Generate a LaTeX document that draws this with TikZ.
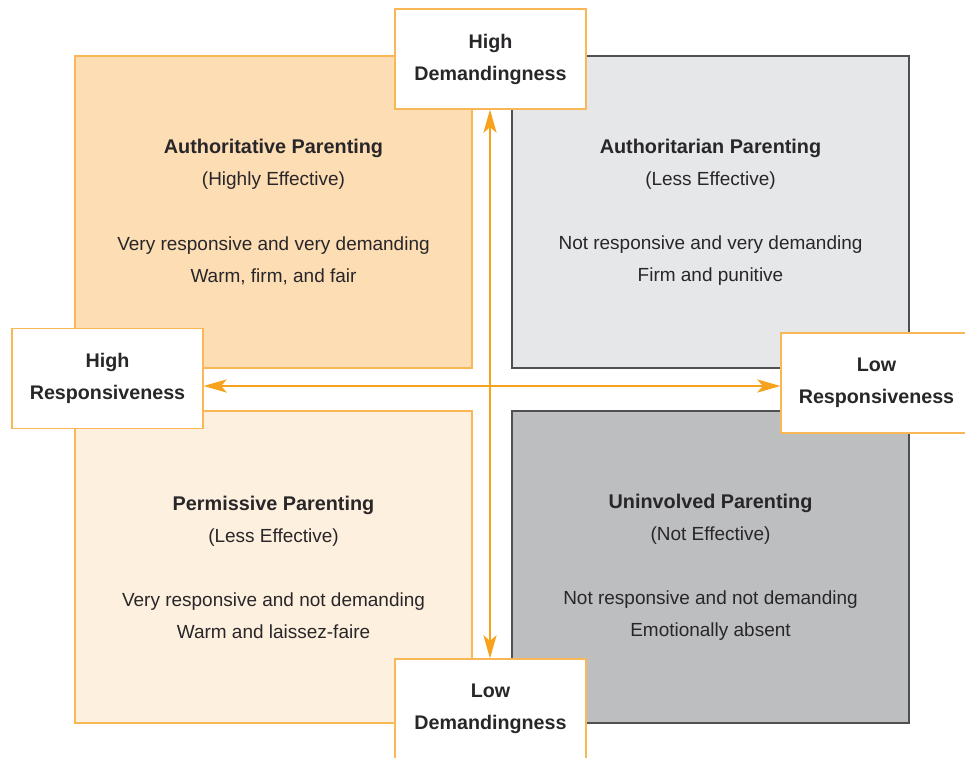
\documentclass[tikz,border=0pt]{standalone}
\usepackage{fontspec}
\setmainfont{Liberation Sans}
\usetikzlibrary{arrows.meta}
\definecolor{ink}{RGB}{40,38,40}
\definecolor{peach}{RGB}{252,221,180}
\definecolor{cream}{RGB}{254,240,223}
\definecolor{mist}{RGB}{230,231,232}
\definecolor{slate}{RGB}{188,190,192}
\definecolor{boxline}{RGB}{250,183,86}
\definecolor{axisorange}{RGB}{246,162,28}
\definecolor{greyline}{RGB}{80,80,82}
\newcommand{\headline}[1]{{\bfseries\fontsize{14.1}{22.8}\selectfont #1}}
\tikzstyle{quadrant} = [rectangle, minimum width=9.925cm, minimum height=7.8cm, inner sep=0pt, align=center, text=ink, font=\fontsize{13.5}{22.8}\selectfont]
\tikzstyle{warm} = [quadrant, draw=boxline, line width=0.8pt]
\tikzstyle{cool} = [quadrant, draw=greyline, line width=1pt]
\tikzstyle{axislabel} = [rectangle, minimum width=4.775cm, minimum height=2.5cm, inner sep=0pt, draw=boxline, line width=0.8pt, fill=white, align=center, text=ink, font=\bfseries\fontsize{14}{22.8}\selectfont]
\tikzstyle{axisline} = [draw=axisorange, line width=1pt, {Stealth[length=0.58cm,width=0.33cm,inset=0.14cm]}-{Stealth[length=0.58cm,width=0.33cm,inset=0.14cm]}]

\begin{document}
\begin{tikzpicture}[x=0.025cm, y=-0.025cm]
\useasboundingbox (0,0) rectangle (965,757);
\clip (0,0) rectangle (965,757);
\node(authoritative)[warm, fill=peach] at (273.5,212) {\headline{Authoritative Parenting}\\(Highly Effective)\\[0.8cm]Very responsive and very demanding\\Warm, firm, and fair};
\node(authoritarian)[cool, fill=mist] at (710.5,212) {\headline{Authoritarian Parenting}\\(Less Effective)\\[0.8cm]Not responsive and very demanding\\Firm and punitive};
\node(permissive)[warm, fill=cream] at (273.5,567) {\headline{Permissive Parenting}\\(Less Effective)\\[0.8cm]Very responsive and not demanding\\Warm and laissez-faire};
\node(uninvolved)[cool, fill=slate] at (710.5,567) {\headline{Uninvolved Parenting}\\(Not Effective)\\[0.8cm]Not responsive and not demanding\\Emotionally absent};

\coordinate (cross) at (490,386);
\node(highdem)[axislabel] at (490.5,59) {High\\Demandingness};
\node(lowdem)[axislabel] at (490.5,709) {Low\\Demandingness};
\node(highresp)[axislabel] at (107.5,378.5) {High\\Responsiveness};
\node(lowresp)[axislabel] at (876.5,383) {Low\\Responsiveness};

\draw[axisline](highdem.south -| cross)--(lowdem.north -| cross);
\draw[axisline](highresp.east |- cross)--(lowresp.west |- cross);
\end{tikzpicture}
\end{document}
